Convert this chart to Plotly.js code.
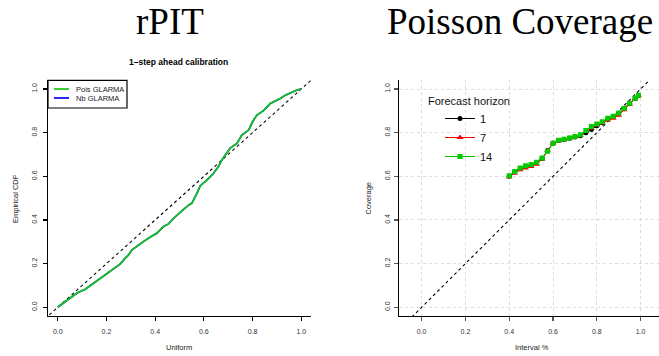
<!DOCTYPE html>
<html>
<head>
<meta charset="utf-8">
<script src="https://cdn.plot.ly/plotly-3.0.1.min.js"></script>
<style>
  html, body { margin: 0; padding: 0; background: #fff; }
  #chart { width: 659px; height: 356px; }
</style>
</head>
<body>
<div id="chart"></div>
<script>
// rPIT: empirical CDF of the randomised PIT values against the uniform
const pitUniform = [0, 0.04, 0.079, 0.113, 0.147, 0.175, 0.202, 0.230, 0.257, 0.277, 0.291, 0.305, 0.325, 0.352, 0.380, 0.407, 0.435, 0.455, 0.476, 0.497, 0.517, 0.540, 0.551, 0.572, 0.585, 0.613, 0.640, 0.660, 0.674, 0.690, 0.708, 0.736, 0.756, 0.784, 0.800, 0.818, 0.845, 0.873, 0.895, 0.914, 0.935, 0.955, 0.975, 0.996, 1.0];
const poisCdf = [0, 0.032, 0.065, 0.083, 0.111, 0.135, 0.156, 0.178, 0.199, 0.225, 0.240, 0.263, 0.281, 0.301, 0.322, 0.339, 0.370, 0.382, 0.408, 0.430, 0.449, 0.470, 0.477, 0.523, 0.556, 0.584, 0.614, 0.645, 0.675, 0.700, 0.729, 0.751, 0.789, 0.812, 0.850, 0.881, 0.901, 0.934, 0.945, 0.957, 0.972, 0.983, 0.992, 1.0, 1.0];
// the negative binomial fit coincides with the Poisson one and sits underneath it
const nbCdf = [0, 0.032, 0.065, 0.083, 0.111, 0.135, 0.156, 0.178, 0.199, 0.225, 0.240, 0.263, 0.281, 0.301, 0.322, 0.339, 0.370, 0.382, 0.408, 0.430, 0.449, 0.470, 0.477, 0.523, 0.556, 0.584, 0.614, 0.645, 0.675, 0.700, 0.729, 0.751, 0.789, 0.812, 0.850, 0.881, 0.901, 0.934, 0.945, 0.957, 0.972, 0.983, 0.992, 1.0, 1.0];
const pitSeries = ['Pois GLARMA', 'Nb GLARMA'];

// Poisson coverage of prediction intervals by forecast horizon
const intervalLevel = [0.400, 0.425, 0.450, 0.475, 0.500, 0.525, 0.550, 0.575, 0.600, 0.625, 0.650, 0.675, 0.700, 0.725, 0.750, 0.775, 0.800, 0.825, 0.850, 0.875, 0.900, 0.925, 0.950, 0.975, 0.990];
const coverH1 = [0.600, 0.620, 0.635, 0.645, 0.652, 0.662, 0.682, 0.718, 0.752, 0.764, 0.769, 0.775, 0.780, 0.786, 0.800, 0.815, 0.832, 0.845, 0.862, 0.874, 0.888, 0.910, 0.932, 0.957, 0.970];
const coverH7 = [0.598, 0.615, 0.630, 0.638, 0.645, 0.655, 0.678, 0.718, 0.752, 0.762, 0.768, 0.773, 0.780, 0.788, 0.805, 0.822, 0.835, 0.845, 0.858, 0.866, 0.880, 0.905, 0.930, 0.955, 0.970];
const coverH14 = [0.603, 0.622, 0.638, 0.648, 0.654, 0.664, 0.684, 0.715, 0.752, 0.765, 0.770, 0.776, 0.782, 0.790, 0.810, 0.828, 0.840, 0.850, 0.866, 0.875, 0.890, 0.912, 0.935, 0.958, 0.972];
const horizons = ['1', '7', '14'];

// y = x reference line, clipped to each panel
const refLine = [-0.2, 1.2];

const tickVals = [0, 0.2, 0.4, 0.6, 0.8, 1.0];
const tickText = ['0.0', '0.2', '0.4', '0.6', '0.8', '1.0'];

const W = 659, H = 356;
const px = v => v / W;
const py = v => 1 - v / H;

const pitColors = ['#11c911', '#0000ff'];
const horizonColors = ['#000000', '#ff0000', '#00cc00'];
const sans = 'Liberation Sans, Arial, sans-serif';
const serif = 'Liberation Serif, Times New Roman, serif';

const traces = [
  { x: refLine, y: refLine, xaxis: 'x', yaxis: 'y', mode: 'lines', showlegend: false,
    line: { color: '#000', width: 1.1, dash: 'dot' }, hoverinfo: 'skip' },
  { x: pitUniform, y: nbCdf, xaxis: 'x', yaxis: 'y', mode: 'lines', name: pitSeries[1], showlegend: false,
    line: { color: pitColors[1], width: 1.7 } },
  { x: pitUniform, y: poisCdf, xaxis: 'x', yaxis: 'y', mode: 'lines', name: pitSeries[0], showlegend: false,
    line: { color: pitColors[0], width: 1.7 } },

  { x: refLine, y: refLine, xaxis: 'x2', yaxis: 'y2', mode: 'lines', showlegend: false,
    line: { color: '#000', width: 1.1, dash: 'dot' }, hoverinfo: 'skip' },
  { x: intervalLevel, y: coverH1, xaxis: 'x2', yaxis: 'y2', mode: 'lines+markers', name: horizons[0],
    line: { color: horizonColors[0], width: 1 }, marker: { symbol: 'circle', size: 5, color: horizonColors[0] }, legend: 'legend2' },
  { x: intervalLevel, y: coverH7, xaxis: 'x2', yaxis: 'y2', mode: 'lines+markers', name: horizons[1],
    line: { color: horizonColors[1], width: 1 }, marker: { symbol: 'triangle-up', size: 6, color: horizonColors[1] }, legend: 'legend2' },
  { x: intervalLevel, y: coverH14, xaxis: 'x2', yaxis: 'y2', mode: 'lines+markers', name: horizons[2],
    line: { color: horizonColors[2], width: 1 }, marker: { symbol: 'square', size: 5, color: horizonColors[2] }, legend: 'legend2' }
];

const axisBase = {
  showline: true, linecolor: '#000', linewidth: 1.4,
  ticks: 'outside', ticklen: 4, tickwidth: 1.2, tickcolor: '#000',
  zeroline: false, showgrid: false,
  tickvals: tickVals, ticktext: tickText,
  tickfont: { family: sans, size: 7, color: '#333' }
};

// compact boxed key for the rPIT panel
const keyBox = { x0: 48, x1: 127, y0: 80.3, y1: 108 };
const keyRows = [89, 98];
const keyShapes = [
  { type: 'rect', xref: 'paper', yref: 'paper', x0: px(keyBox.x0), x1: px(keyBox.x1), y0: py(keyBox.y0), y1: py(keyBox.y1),
    line: { color: '#000', width: 1.2 }, fillcolor: '#fff', layer: 'above' }
].concat(keyRows.map((r, i) => ({
  type: 'line', xref: 'paper', yref: 'paper', x0: px(54), x1: px(69), y0: py(r), y1: py(r),
  line: { color: pitColors[i], width: 1.7 }, layer: 'above'
})));
const keyLabels = keyRows.map((r, i) => ({
  text: pitSeries[i], x: px(74), y: py(r), xref: 'paper', yref: 'paper', xanchor: 'left', yanchor: 'middle',
  showarrow: false, font: { family: sans, size: 7.5, color: '#222' }
}));

const layout = {
  width: W, height: H,
  margin: { l: 0, r: 0, t: 0, b: 0 },
  paper_bgcolor: '#fff', plot_bgcolor: '#fff',
  font: { family: sans, color: '#000' },
  showlegend: true,
  xaxis: Object.assign({}, axisBase, { domain: [px(48), px(311)], range: [-0.04, 1.04], anchor: 'y', ticklabelstandoff: 4 }),
  yaxis: Object.assign({}, axisBase, { domain: [1 - 316 / H, 1 - 80.3 / H], range: [-0.04, 1.04], anchor: 'x', tickangle: -90, ticklabelstandoff: 3 }),
  xaxis2: Object.assign({}, axisBase, { domain: [px(399.3), 1], range: [-0.102, 1.084], anchor: 'y2', ticklabelstandoff: 4,
    showgrid: true, gridcolor: '#dcdcdc', griddash: 'dot', gridwidth: 1, tickcolor: '#555' }),
  yaxis2: Object.assign({}, axisBase, { domain: [1 - 316 / H, 1 - 80.3 / H], range: [-0.04, 1.04], anchor: 'x2', tickangle: -90, ticklabelstandoff: 1,
    showgrid: true, gridcolor: '#dcdcdc', griddash: 'dot', gridwidth: 1, tickcolor: '#555' }),
  legend2: {
    x: px(440), y: py(104), xanchor: 'left', yanchor: 'top',
    bgcolor: 'rgba(0,0,0,0)', borderwidth: 0,
    font: { family: sans, size: 11, color: '#111' },
    traceorder: 'normal', itemwidth: 30, tracegroupgap: 0
  },
  shapes: keyShapes,
  annotations: [
    { text: 'rPIT', x: px(170), y: py(21.5), xref: 'paper', yref: 'paper', xanchor: 'center', yanchor: 'middle',
      showarrow: false, font: { family: serif, size: 37, color: '#000' } },
    { text: 'Poisson Coverage', x: px(520), y: py(21.5), xref: 'paper', yref: 'paper', xanchor: 'center', yanchor: 'middle',
      showarrow: false, font: { family: serif, size: 37, color: '#000' } },
    { text: '<b>1\u2013step ahead calibration</b>', x: px(179), y: py(62), xref: 'paper', yref: 'paper', xanchor: 'center', yanchor: 'middle',
      showarrow: false, font: { family: sans, size: 8.5, color: '#000' } },
    { text: 'Forecast horizon', x: px(426), y: py(101), xref: 'paper', yref: 'paper', xanchor: 'left', yanchor: 'middle',
      showarrow: false, font: { family: sans, size: 11, color: '#111' } },
    { text: 'Uniform', x: px(179.5), y: py(347), xref: 'paper', yref: 'paper', xanchor: 'center', yanchor: 'middle',
      showarrow: false, font: { family: sans, size: 7.5, color: '#222' } },
    { text: 'Empirical CDF', x: px(15), y: py(199), xref: 'paper', yref: 'paper', xanchor: 'center', yanchor: 'middle', textangle: -90,
      showarrow: false, font: { family: sans, size: 7.5, color: '#222' } },
    { text: 'Interval %', x: px(532), y: py(347), xref: 'paper', yref: 'paper', xanchor: 'center', yanchor: 'middle',
      showarrow: false, font: { family: sans, size: 7.5, color: '#222' } },
    { text: 'Coverage', x: px(367.5), y: py(198), xref: 'paper', yref: 'paper', xanchor: 'center', yanchor: 'middle', textangle: -90,
      showarrow: false, font: { family: sans, size: 7.5, color: '#222' } }
  ].concat(keyLabels)
};

Plotly.newPlot('chart', traces, layout, { staticPlot: true, displayModeBar: false });
</script>
</body>
</html>
